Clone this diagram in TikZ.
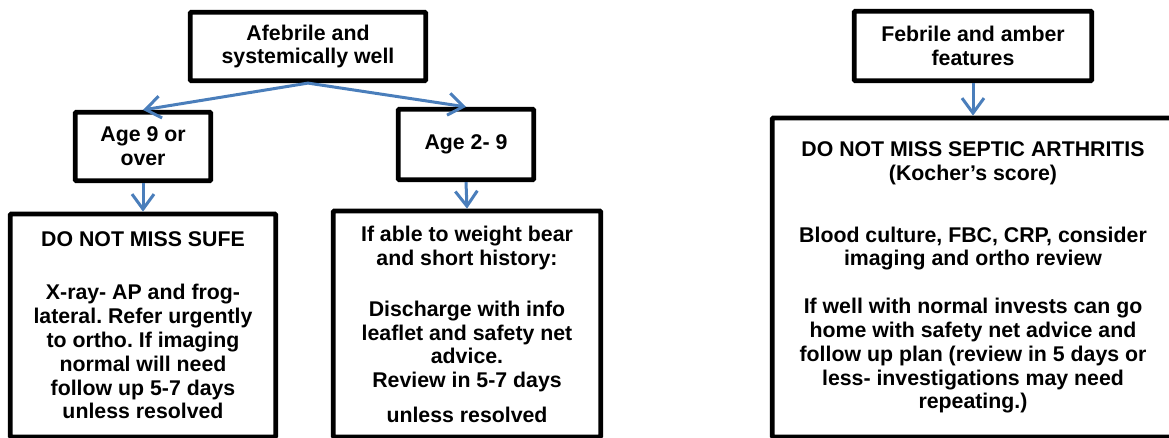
\documentclass[tikz,border=0pt]{standalone}
\usepackage{fontspec}
\setmainfont{Liberation Sans}
\frenchspacing
\usepackage{xcolor}
\definecolor{azul}{RGB}{74,126,187}
\usepackage{tikz}
\usetikzlibrary{arrows.meta,positioning}
\tikzstyle{box}  =[draw, rectangle, line width=4.7pt,
                   rounded corners=1pt, align=center, inner sep=0pt,
                   font=\bfseries\fontsize{21.3}{23.8}\selectfont]
\tikzstyle{edge} =[-{Straight Barb[length=15pt,width=22pt]},
                   line width=3pt]

\begin{document}
\begin{tikzpicture}[x=1pt,y=-1pt]
    \useasboundingbox (0,0) rectangle (1169,437);

    % afebrile branch
    \draw (308,46.5) node (1) [box,minimum width=235.5pt,minimum height=68.5pt]
        {Afebrile and\\systemically well};
    \draw (143,146.5) node (2) [box,minimum width=135.5pt,minimum height=68.5pt]
        {Age 9 or\\over};
    \draw (466,144.5) node (3) [box,minimum width=135.5pt,minimum height=70.5pt]
        {Age 2- 9};
    \draw (143,325.5) node (4) [box,minimum width=265.5pt,minimum height=223pt]
        {DO NOT MISS SUFE\\[29.5pt]
         X-ray- AP and frog-\\lateral. Refer urgently\\to ortho. If imaging\\
         normal will need\\follow up 5-7 days\\unless resolved};
    \draw (467,324) node (5) [box,minimum width=267.5pt,minimum height=226pt]
        {If able to weight bear\\and short history:\\[27.5pt]
         Discharge with info\\leaflet and safety net\\advice.\\
         Review in 5-7 days\\[10.5pt]unless resolved};

    % febrile branch
    \draw (973,46) node (6) [box,minimum width=237.5pt,minimum height=69.5pt]
        {Febrile and amber\\features};
    \draw (973,277.5) node (7) [box,minimum width=401.5pt,minimum height=319pt]
        {DO NOT MISS SEPTIC ARTHRITIS\\(Kocher’s score)\\[38pt]
         Blood culture, FBC, CRP, consider\\imaging and ortho review\\[24pt]
         If well with normal invests can go\\home with safety net advice and\\
         follow up plan (review in 5 days or\\less- investigations may need\\
         repeating.)};

    \foreach \i/\j in{1/2,1/3,2/4,3/5,6/7}
    \draw [edge,azul] (\i.south) to (\j.north);

\end{tikzpicture}
\end{document}
